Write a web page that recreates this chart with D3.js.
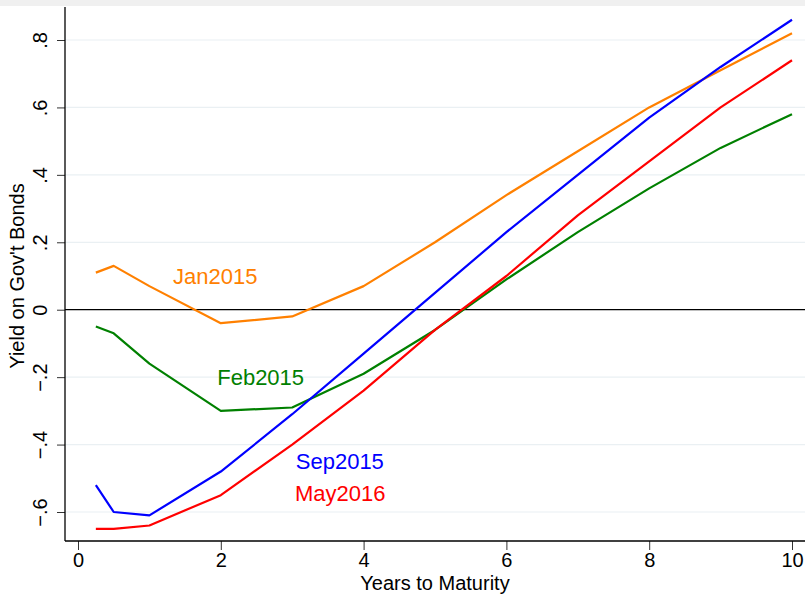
<!DOCTYPE html>
<html>
<head>
<meta charset="utf-8">
<script src="https://cdn.jsdelivr.net/npm/d3@7"></script>
<style>
  body { margin: 0; background: #fff; }
  svg { display: block; font-family: "Liberation Sans", Arial, sans-serif; }
</style>
</head>
<body>
<svg id="drawing_region"></svg>
<script>
// maturities (years) and yields for each curve
const maturities = [0.25, 0.5, 1, 2, 3, 4, 5, 6, 7, 8, 9, 10];
const jan2015 = [0.11, 0.13, 0.07, -0.04, -0.02, 0.07, 0.20, 0.34, 0.47, 0.60, 0.71, 0.82];
const feb2015 = [-0.05, -0.07, -0.16, -0.30, -0.29, -0.19, -0.06, 0.09, 0.23, 0.36, 0.48, 0.58];
const sep2015 = [-0.52, -0.60, -0.61, -0.48, -0.31, -0.13, 0.05, 0.23, 0.40, 0.57, 0.72, 0.86];
const may2016 = [-0.65, -0.65, -0.64, -0.55, -0.40, -0.24, -0.06, 0.10, 0.28, 0.44, 0.60, 0.74];

const seriesNames = ['Jan2015', 'Feb2015', 'Sep2015', 'May2016'];
const seriesColors = ['#ff8000', '#008000', '#0000ff', '#ff0000'];
// label anchors in data units (years, yield)
const labelX = [1.33, 1.95, 3.05, 3.04];
const labelY = [0.10, -0.20, -0.45, -0.545];

const xTicks = [0, 2, 4, 6, 8, 10];
const yTicks = [-0.6, -0.4, -0.2, 0, 0.2, 0.4, 0.6, 0.8];

const W = 805, H = 594;
const svg = d3.select('#drawing_region').attr('width', W).attr('height', H);

// plot frame
const plotLeft = 65, plotTop = 7, plotBottom = 541, plotRight = W;

const x = d3.scaleLinear().domain([0, 10]).range([78, 792]);
const y = d3.scaleLinear().domain([-0.6, 0.8]).range([512, 40]);

svg.append('rect').attr('x', 0).attr('y', 0).attr('width', W).attr('height', 6).attr('fill', '#f0f0f0');

// grid lines
svg.append('g').selectAll('line')
    .data(yTicks.filter(d => d !== 0))
    .enter().append('line')
    .attr('x1', plotLeft).attr('x2', plotRight)
    .attr('y1', d => y(d)).attr('y2', d => y(d))
    .attr('stroke', '#eaf0f3').attr('stroke-width', 1.2);

// zero line
svg.append('line')
    .attr('x1', plotLeft).attr('x2', plotRight)
    .attr('y1', y(0)).attr('y2', y(0))
    .attr('stroke', '#000').attr('stroke-width', 1.3);

const fmt = d => d === 0 ? '0' : d3.format('.1f')(d).replace('0.', '.');

// y axis
const yAxis = svg.append('g')
    .attr('transform', `translate(${plotLeft},0)`)
    .call(d3.axisLeft(y).tickValues(yTicks).tickSize(8).tickFormat(fmt));
yAxis.select('.domain').remove();
yAxis.selectAll('.tick line').attr('stroke', '#333');
yAxis.selectAll('.tick text')
    .attr('x', null).attr('dy', null)
    .attr('transform', 'translate(-25,0) rotate(-90)')
    .attr('text-anchor', 'middle')
    .attr('dominant-baseline', 'central')
    .attr('font-size', 20).attr('fill', '#000')
    .style('font-family', '"Liberation Sans", Arial, sans-serif');
svg.append('line')
    .attr('x1', plotLeft).attr('x2', plotLeft).attr('y1', plotTop).attr('y2', plotBottom)
    .attr('stroke', '#000').attr('stroke-width', 1.3);

// x axis
const xAxis = svg.append('g')
    .attr('transform', `translate(0,${plotBottom})`)
    .call(d3.axisBottom(x).tickValues(xTicks).tickSize(9).tickFormat(d3.format('d')));
xAxis.select('.domain').remove();
xAxis.selectAll('.tick line').attr('stroke', '#333');
xAxis.selectAll('.tick text')
    .attr('y', 19).attr('dy', null)
    .attr('dominant-baseline', 'central')
    .attr('font-size', 20).attr('fill', '#000')
    .style('font-family', '"Liberation Sans", Arial, sans-serif');
svg.append('line')
    .attr('x1', plotLeft).attr('x2', plotRight).attr('y1', plotBottom).attr('y2', plotBottom)
    .attr('stroke', '#000').attr('stroke-width', 1.3);

// axis titles
svg.append('text')
    .attr('x', 435).attr('y', 583)
    .attr('text-anchor', 'middle').attr('dominant-baseline', 'central')
    .attr('font-size', 20)
    .text('Years to Maturity');
svg.append('text')
    .attr('transform', 'translate(17,276) rotate(-90)')
    .attr('text-anchor', 'middle').attr('dominant-baseline', 'central')
    .attr('font-size', 20)
    .text("Yield on Gov't Bonds");

// curves
const allSeries = [jan2015, feb2015, sep2015, may2016];
const line = d3.line().x((d, i) => x(maturities[i])).y(d => y(d));

svg.append('g').selectAll('path')
    .data(allSeries)
    .enter().append('path')
    .attr('d', line)
    .attr('fill', 'none')
    .attr('stroke', (d, i) => seriesColors[i])
    .attr('stroke-width', 2.2)
    .attr('stroke-linejoin', 'round');

// curve labels
svg.append('g').selectAll('text')
    .data(seriesNames)
    .enter().append('text')
    .attr('x', (d, i) => x(labelX[i]))
    .attr('y', (d, i) => y(labelY[i]))
    .attr('dominant-baseline', 'central')
    .attr('font-size', 22)
    .attr('fill', (d, i) => seriesColors[i])
    .text(d => d);
</script>
</body>
</html>
